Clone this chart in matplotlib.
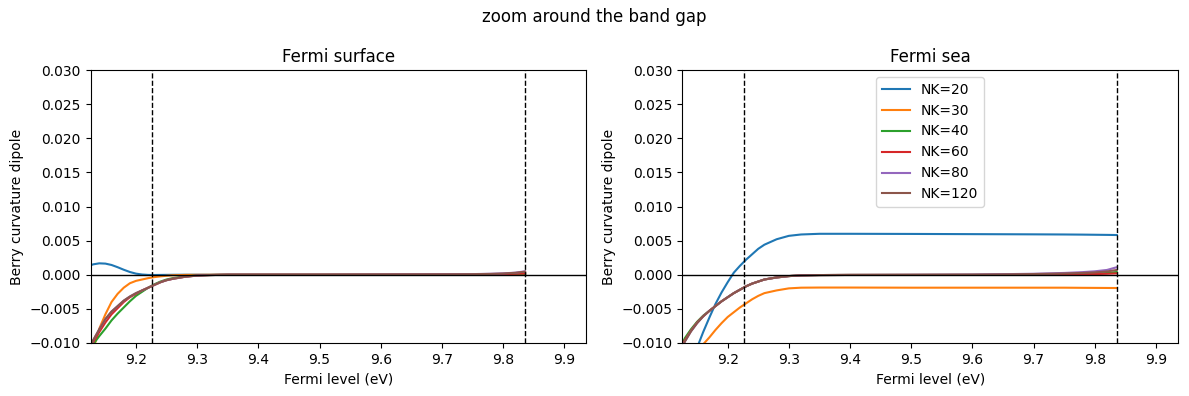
import matplotlib.pyplot as plt

# band gap edges (eV)
gap_lo = 9.226
gap_hi = 9.836

nk_labels = ['NK=20', 'NK=30', 'NK=40', 'NK=60', 'NK=80', 'NK=120']

energy = [9.11, 9.12, 9.13, 9.14, 9.15, 9.16, 9.17, 9.18, 9.19, 9.20,
          9.21, 9.22, 9.23, 9.24, 9.25, 9.26, 9.28, 9.30, 9.32, 9.35,
          9.40, 9.50, 9.60, 9.70, 9.75, 9.78, 9.80, 9.82, 9.836]

# Fermi surface contribution
surf_nk20 = [0.0008, 0.0012, 0.00152, 0.00167, 0.00163, 0.00143, 0.00110, 0.00073, 0.00040, 0.00016,
             0.00003, -0.00003, -0.00004, -0.00003, -0.00002, -0.00001, 0.0, 0.0, 0.0, 0.0,
             0.0, 0.0, 0.00001, 0.00002, 0.00003, 0.00004, 0.00005, 0.00006, 0.00008]
surf_nk30 = [-0.0175, -0.0145, -0.0110, -0.0079, -0.0058, -0.0040, -0.0028, -0.0019, -0.00125, -0.0009,
             -0.0007, -0.0005, -0.00035, -0.00024, -0.00015, -0.00008, -0.00003, -0.00001, 0.0, 0.0,
             0.0, 0.0, 0.00001, 0.00003, 0.00005, 0.00007, 0.00009, 0.00012, 0.00016]
surf_nk40 = [-0.0125, -0.0113, -0.0102, -0.0090, -0.0079, -0.0067, -0.0057, -0.0048, -0.0039, -0.0031,
             -0.0025, -0.0019, -0.0014, -0.0010, -0.0007, -0.0005, -0.00025, -0.0001, -0.00005, 0.0,
             0.0, 0.0, 0.00001, 0.00003, 0.00005, 0.00007, 0.0001, 0.00013, 0.00018]
surf_nk60 = [-0.0135, -0.0117, -0.0099, -0.0084, -0.0070, -0.0058, -0.0049, -0.0040, -0.0033, -0.0028,
             -0.0023, -0.0019, -0.0015, -0.0011, -0.0008, -0.0006, -0.0003, -0.00012, -0.00005, 0.0,
             0.0, 0.0, 0.00001, 0.00003, 0.00005, 0.00007, 0.0001, 0.00014, 0.0002]
surf_nk80 = [-0.0140, -0.0118, -0.0096, -0.0080, -0.0065, -0.0054, -0.0046, -0.0038, -0.0032, -0.0027,
             -0.0023, -0.0019, -0.0015, -0.0011, -0.0008, -0.0006, -0.0003, -0.00012, -0.00005, 0.0,
             0.0, 0.0, 0.00002, 0.00005, 0.00009, 0.00014, 0.0002, 0.0003, 0.0005]
surf_nk120 = [-0.0140, -0.0118, -0.0096, -0.0080, -0.0065, -0.0054, -0.0046, -0.0038, -0.0032, -0.0027,
              -0.0023, -0.0019, -0.0015, -0.0011, -0.0008, -0.0006, -0.0003, -0.00012, -0.00005, 0.0,
              0.0, 0.0, 0.00002, 0.00005, 0.00008, 0.00012, 0.00018, 0.00028, 0.00045]

# Fermi sea contribution
sea_nk20 = [-0.030, -0.025, -0.020, -0.0155, -0.0107, -0.0084, -0.0063, -0.0043, -0.0026, -0.0011,
            0.0003, 0.0013, 0.0022, 0.0030, 0.0038, 0.0044, 0.0052, 0.0057, 0.0059, 0.0060,
            0.0060, 0.00598, 0.00595, 0.00592, 0.0059, 0.00588, 0.00586, 0.00584, 0.00582]
sea_nk30 = [-0.020, -0.0175, -0.0150, -0.0127, -0.0112, -0.0102, -0.0092, -0.0081, -0.0071, -0.0062,
            -0.0055, -0.0048, -0.0042, -0.0036, -0.0031, -0.0027, -0.0023, -0.0020, -0.0019, -0.00188,
            -0.00188, -0.0019, -0.0019, -0.0019, -0.0019, -0.00192, -0.00193, -0.00194, -0.00195]
sea_nk40 = [-0.0135, -0.0112, -0.0093, -0.0080, -0.0069, -0.0060, -0.0053, -0.0046, -0.0039, -0.0033,
            -0.0027, -0.0022, -0.0017, -0.0013, -0.0010, -0.0007, -0.0004, -0.0002, -0.0001, -0.00005,
            -0.00003, -0.00002, 0.0, 0.00004, 0.00008, 0.00012, 0.00016, 0.00025, 0.0004]
sea_nk60 = [-0.0140, -0.0116, -0.0096, -0.0082, -0.0070, -0.0061, -0.0053, -0.0046, -0.0039, -0.0033,
            -0.0027, -0.0022, -0.0017, -0.0013, -0.0010, -0.0007, -0.0004, -0.0002, -0.0001, -0.00005,
            -0.00003, -0.00002, -0.00001, 0.0, 0.00003, 0.00006, 0.0001, 0.00014, 0.0002]
sea_nk80 = [-0.0145, -0.0120, -0.0098, -0.0083, -0.0071, -0.0061, -0.0053, -0.0046, -0.0039, -0.0033,
            -0.0027, -0.0022, -0.0017, -0.0013, -0.0010, -0.0007, -0.0004, -0.0002, -0.0001, -0.00005,
            -0.00003, -0.00001, 0.00002, 0.00014, 0.00026, 0.00038, 0.0005, 0.0007, 0.0011]
sea_nk120 = [-0.0145, -0.0120, -0.0098, -0.0083, -0.0071, -0.0061, -0.0053, -0.0046, -0.0039, -0.0033,
             -0.0027, -0.0022, -0.0017, -0.0013, -0.0010, -0.0007, -0.0004, -0.0002, -0.0001, -0.00005,
             -0.00003, -0.00002, 0.0, 0.0001, 0.00018, 0.00026, 0.00034, 0.00048, 0.0007]

surface = [surf_nk20, surf_nk30, surf_nk40, surf_nk60, surf_nk80, surf_nk120]
sea = [sea_nk20, sea_nk30, sea_nk40, sea_nk60, sea_nk80, sea_nk120]

fig, (ax1, ax2) = plt.subplots(1, 2, figsize=(11.89, 3.96), dpi=100)

for ax, curves, title in [(ax1, surface, 'Fermi surface'), (ax2, sea, 'Fermi sea')]:
    for y, lab in zip(curves, nk_labels):
        ax.plot(energy, y, label=lab)
    ax.axhline(0, color='k', lw=1)
    ax.axvline(gap_lo, color='k', ls='--', lw=1)
    ax.axvline(gap_hi, color='k', ls='--', lw=1)
    ax.set_xlim(gap_lo - 0.1, gap_hi + 0.1)
    ax.set_ylim(-0.01, 0.03)
    ax.set_xlabel('Fermi level (eV)')
    ax.set_ylabel('Berry curvature dipole')
    ax.set_title(title)

ax2.legend(loc='upper center')
fig.suptitle('zoom around the band gap')

fig.subplots_adjust(left=0.0763, right=0.9907, bottom=0.134, top=0.823, wspace=0.194)
plt.savefig('out.png', dpi=100)
